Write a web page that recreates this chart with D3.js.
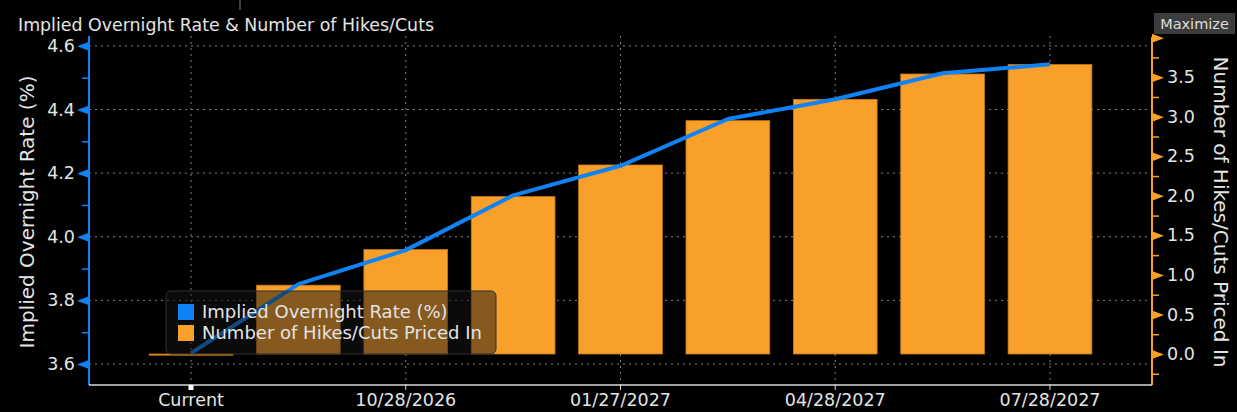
<!DOCTYPE html>
<html>
<head>
<meta charset="utf-8">
<script src="https://cdn.jsdelivr.net/npm/d3@7"></script>
<style>
  html, body { margin: 0; padding: 0; background: #000; }
  svg { display: block; font-family: "DejaVu Sans", sans-serif; }
</style>
</head>
<body>
<svg width="1237" height="412"></svg>
<script>
// data
var dateLabels = ["Current", "", "10/28/2026", "", "01/27/2027", "", "04/28/2027", "", "07/28/2027"];
var impliedRate = [3.634, 3.851, 3.958, 4.130, 4.223, 4.370, 4.432, 4.514, 4.542];
var hikesPriced = [-0.01, 0.87, 1.32, 1.99, 2.39, 2.95, 3.22, 3.54, 3.66];
var leftTicks = [3.6, 3.8, 4.0, 4.2, 4.4, 4.6];
var leftMinor = [3.7, 3.9, 4.1, 4.3, 4.5];
var rightTicks = [0, 0.5, 1.0, 1.5, 2.0, 2.5, 3.0, 3.5, 4.0];
var rightMinor = [-0.25, 0.25, 0.75, 1.25, 1.75, 2.25, 2.75, 3.25, 3.75];

var plotLeft = 89, plotRight = 1152, plotTop = 36, plotBottom = 385;
var blue = "#0f82f5", orange = "#f9a02a", textCol = "#e4e4e4";
var font = "DejaVu Sans";

var svg = d3.select("svg");
var idx = d3.range(dateLabels.length);
var labelled = idx.filter(i => dateLabels[i] != "");

var x = d3.scaleBand()
  .domain(idx)
  .range([plotLeft, plotRight])
  .paddingInner(0.22)
  .paddingOuter(0.56);
var cx = i => x(i) + x.bandwidth() / 2;

var yL = d3.scaleLinear().domain([3.534, 4.631]).range([plotBottom, plotTop]);
var yR = d3.scaleLinear().domain([-0.392, 4.008]).range([plotBottom, plotTop + 1]);

// grid
svg.append("g")
  .selectAll("line")
  .data(leftTicks)
  .enter().append("line")
    .attr("x1", plotLeft).attr("x2", plotRight)
    .attr("y1", d => yL(d)).attr("y2", d => yL(d))
    .attr("stroke", "#808080").attr("stroke-dasharray", "2,4");

svg.append("g")
  .selectAll("line")
  .data(labelled)
  .enter().append("line")
    .attr("x1", d => cx(d)).attr("x2", d => cx(d))
    .attr("y1", plotTop).attr("y2", plotBottom)
    .attr("stroke", "#808080").attr("stroke-dasharray", "2,4");

// bars
svg.append("g")
  .selectAll("rect")
  .data(idx)
  .enter().append("rect")
    .attr("x", d => x(d))
    .attr("width", x.bandwidth())
    .attr("y", d => Math.min(yR(hikesPriced[d]), yR(0)))
    .attr("height", d => Math.max(1.2, Math.abs(yR(hikesPriced[d]) - yR(0))))
    .attr("fill", orange)
    .attr("stroke", "#c47812")
    .attr("stroke-width", 0.8);

// line
var line = d3.line()
  .x(d => cx(d))
  .y(d => yL(impliedRate[d]));

svg.append("path")
  .datum(idx)
  .attr("d", line)
  .attr("fill", "none")
  .attr("stroke", blue)
  .attr("stroke-width", 4)
  .attr("stroke-linejoin", "round");

// left axis
var gL = svg.append("g")
  .attr("transform", "translate(" + plotLeft + ",0)")
  .call(d3.axisLeft(yL).tickValues(leftTicks).tickSize(0).tickPadding(14).tickFormat(d3.format(".1f")))
  .attr("font-family", font).attr("font-size", 17.5);
gL.select(".domain").attr("stroke", blue).attr("stroke-width", 2).attr("d", "M0," + plotTop + "V" + plotBottom);
gL.selectAll(".tick text").attr("fill", textCol);
gL.selectAll(".tick").append("path")
  .attr("d", "M0,-4.5L-12,0L0,4.5Z")
  .attr("fill", blue);
svg.append("g")
  .attr("transform", "translate(" + plotLeft + ",0)")
  .call(d3.axisLeft(yL).tickValues(leftMinor).tickSize(7).tickFormat(""))
  .call(g => g.select(".domain").remove())
  .selectAll("line").attr("stroke", blue).attr("stroke-width", 1.5);

// right axis
var gR = svg.append("g")
  .attr("transform", "translate(" + plotRight + ",0)")
  .call(d3.axisRight(yR).tickValues(rightTicks).tickSize(0).tickPadding(15)
    .tickFormat(d => d > 3.9 ? "" : d3.format(".1f")(d)))
  .attr("font-family", font).attr("font-size", 17.5);
gR.select(".domain").attr("stroke", orange).attr("stroke-width", 2).attr("d", "M0," + (plotTop + 1) + "V" + plotBottom);
gR.selectAll(".tick text").attr("fill", textCol);
gR.selectAll(".tick").append("path")
  .attr("d", "M0,-4.5L12,0L0,4.5Z")
  .attr("fill", orange);
svg.append("g")
  .attr("transform", "translate(" + plotRight + ",0)")
  .call(d3.axisRight(yR).tickValues(rightMinor).tickSize(7).tickFormat(""))
  .call(g => g.select(".domain").remove())
  .selectAll("line").attr("stroke", orange).attr("stroke-width", 1.5);

// x axis
var gX = svg.append("g")
  .attr("transform", "translate(0," + plotBottom + ")")
  .call(d3.axisBottom(x).tickValues(labelled).tickSize(5).tickPadding(4).tickFormat(d => dateLabels[d]))
  .attr("font-family", font).attr("font-size", 17.5);
gX.select(".domain").attr("stroke", "#d8d8d8").attr("stroke-width", 1.5).attr("d", "M" + plotLeft + ",0H" + plotRight);
gX.selectAll(".tick line").attr("stroke", "#d8d8d8");
gX.selectAll(".tick text").attr("fill", textCol);
gX.append("rect")
  .attr("x", cx(0) - 2.5).attr("y", 0).attr("width", 5).attr("height", 5)
  .attr("fill", "#ffffff");

// legend
var legend = svg.append("g").attr("transform", "translate(166,291)");
legend.append("rect")
  .attr("width", 330).attr("height", 63).attr("rx", 5)
  .attr("fill", "#141414").attr("fill-opacity", 0.5)
  .attr("stroke", "#303030");
var legendItems = [
  { name: "Implied Overnight Rate (%)", color: blue },
  { name: "Number of Hikes/Cuts Priced In", color: orange }
];
var li = legend.selectAll(".item")
  .data(legendItems)
  .enter().append("g")
    .attr("transform", (d, i) => "translate(12," + (13 + i * 21) + ")");
li.append("rect").attr("width", 16).attr("height", 16).attr("fill", d => d.color);
li.append("text")
  .attr("x", 24).attr("y", 14)
  .attr("fill", textCol).attr("font-size", 18)
  .text(d => d.name);

// titles
svg.append("text")
  .attr("x", 18).attr("y", 31)
  .attr("fill", textCol).attr("font-size", 17.4)
  .text("Implied Overnight Rate & Number of Hikes/Cuts");

svg.append("text")
  .attr("transform", "translate(34,212) rotate(-90)")
  .attr("text-anchor", "middle")
  .attr("fill", textCol).attr("font-size", 20)
  .text("Implied Overnight Rate (%)");

svg.append("text")
  .attr("transform", "translate(1214,212) rotate(90)")
  .attr("text-anchor", "middle")
  .attr("fill", textCol).attr("font-size", 20)
  .text("Number of Hikes/Cuts Priced In");

// maximize button
svg.append("rect")
  .attr("x", 1154).attr("y", 13).attr("width", 81).attr("height", 21)
  .attr("fill", "#3c3c3c");
svg.append("text")
  .attr("x", 1194.5).attr("y", 29)
  .attr("text-anchor", "middle")
  .attr("fill", "#dcdcdc").attr("font-size", 14.5)
  .text("Maximize");

svg.append("line")
  .attr("x1", 240).attr("x2", 240).attr("y1", 0).attr("y2", 10)
  .attr("stroke", "#555").attr("stroke-width", 1.5);
</script>
</body>
</html>
